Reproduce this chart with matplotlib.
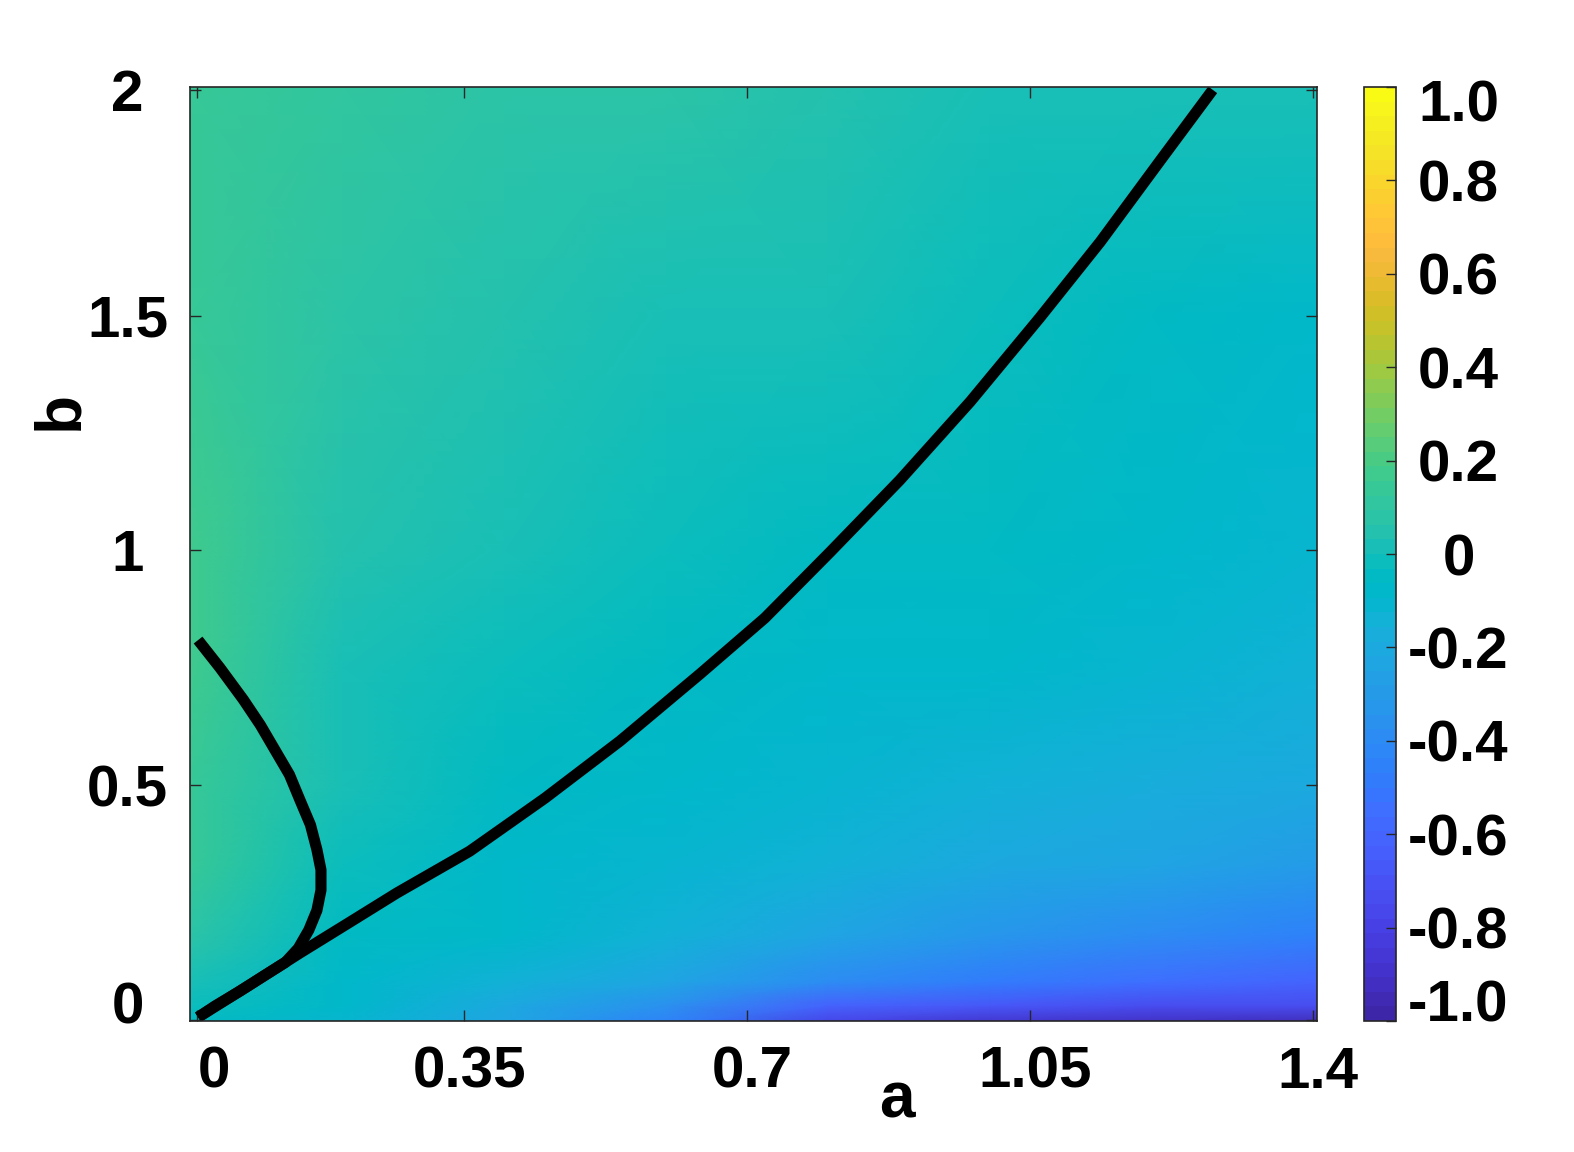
import matplotlib
matplotlib.use("Agg")
import matplotlib.pyplot as plt
import matplotlib.transforms as mtransforms
import numpy as np
from matplotlib.colors import ListedColormap

plt.rcParams['font.family'] = ['Liberation Sans', 'DejaVu Sans']
plt.rcParams['font.weight'] = 'bold'

# field values on a coarse grid (rows: b, cols: a)
a_nodes = [0.01, 0.2, 0.4, 0.6, 0.8, 1.0, 1.2, 1.41]
b_nodes = [-0.01, 0.03, 0.08, 0.18, 0.33, 0.5, 0.75, 1.0, 1.5, 1.99]
field = [
    [-0.05, -0.10, -0.25, -0.45, -0.80, -0.88, -0.93, -0.94],
    [-0.02, -0.08, -0.20, -0.35, -0.60, -0.68, -0.72, -0.75],
    [0.02, -0.07, -0.14, -0.25, -0.40, -0.48, -0.55, -0.60],
    [0.08, -0.06, -0.09, -0.15, -0.25, -0.32, -0.40, -0.45],
    [0.13, -0.03, -0.07, -0.10, -0.15, -0.20, -0.25, -0.30],
    [0.15, 0.00, -0.05, -0.07, -0.10, -0.13, -0.17, -0.20],
    [0.16, 0.03, -0.03, -0.06, -0.07, -0.09, -0.11, -0.14],
    [0.16, 0.06, 0.02, -0.03, -0.05, -0.06, -0.08, -0.10],
    [0.14, 0.09, 0.06, 0.03, 0.00, -0.03, -0.05, -0.07],
    [0.13, 0.11, 0.09, 0.07, 0.05, 0.03, 0.01, 0.00],
]

# boundary curves (a, b)
main_a = [0.021, 0.085, 0.147, 0.209, 0.267, 0.357, 0.450, 0.543, 0.642,
          0.722, 0.803, 0.889, 0.976, 1.062, 1.137, 1.211, 1.276]
main_b = [0.005, 0.074, 0.142, 0.208, 0.270, 0.359, 0.472, 0.594, 0.737,
          0.856, 0.997, 1.150, 1.317, 1.496, 1.658, 1.831, 1.982]
loop_a = [0.021, 0.048, 0.077, 0.098, 0.116, 0.134, 0.147, 0.160, 0.168, 0.173,
          0.173, 0.168, 0.158, 0.145, 0.129, 0.104, 0.073, 0.042, 0.021]
loop_b = [0.809, 0.750, 0.682, 0.628, 0.575, 0.522, 0.468, 0.415, 0.362, 0.319,
          0.276, 0.233, 0.191, 0.152, 0.122, 0.095, 0.061, 0.029, 0.005]

x_ticks = [0.02, 0.35, 0.7, 1.05, 1.4]
x_labels = ['0', '0.35', '0.7', '1.05', '1.4']
y_ticks = [0, 0.5, 1, 1.5, 1.982]
y_labels = ['0', '0.5', '1', '1.5', '2']
cb_ticks = [-1.0, -0.8, -0.6, -0.4, -0.2, 0, 0.2, 0.4, 0.6, 0.8, 1.0]
cb_labels = ['-1.0', '-0.8', '-0.6', '-0.4', '-0.2', '0', '0.2', '0.4', '0.6', '0.8', '1.0']

parula = ListedColormap([
    [0.2422, 0.1504, 0.6603], [0.2504, 0.1650, 0.7076], [0.2578, 0.1818, 0.7511], [0.2647, 0.1978, 0.7952],
    [0.2706, 0.2147, 0.8364], [0.2751, 0.2342, 0.8710], [0.2783, 0.2559, 0.8991], [0.2803, 0.2782, 0.9221],
    [0.2813, 0.3006, 0.9414], [0.2810, 0.3228, 0.9579], [0.2795, 0.3447, 0.9717], [0.2760, 0.3667, 0.9829],
    [0.2699, 0.3892, 0.9906], [0.2602, 0.4123, 0.9952], [0.2440, 0.4358, 0.9988], [0.2206, 0.4603, 0.9973],
    [0.1963, 0.4847, 0.9892], [0.1834, 0.5074, 0.9798], [0.1786, 0.5289, 0.9682], [0.1764, 0.5499, 0.9520],
    [0.1687, 0.5703, 0.9359], [0.1540, 0.5902, 0.9218], [0.1460, 0.6091, 0.9079], [0.1380, 0.6276, 0.8973],
    [0.1248, 0.6459, 0.8883], [0.1113, 0.6635, 0.8763], [0.0952, 0.6798, 0.8598], [0.0689, 0.6948, 0.8394],
    [0.0297, 0.7082, 0.8163], [0.0036, 0.7203, 0.7917], [0.0067, 0.7312, 0.7660], [0.0433, 0.7411, 0.7394],
    [0.0964, 0.7500, 0.7120], [0.1408, 0.7584, 0.6842], [0.1717, 0.7670, 0.6554], [0.1938, 0.7758, 0.6251],
    [0.2161, 0.7843, 0.5923], [0.2470, 0.7918, 0.5567], [0.2906, 0.7973, 0.5188], [0.3406, 0.8008, 0.4789],
    [0.3909, 0.8029, 0.4354], [0.4456, 0.8024, 0.3909], [0.5044, 0.7993, 0.3480], [0.5616, 0.7942, 0.3045],
    [0.6174, 0.7876, 0.2612], [0.6720, 0.7793, 0.2227], [0.7242, 0.7698, 0.1910], [0.7738, 0.7598, 0.1646],
    [0.8203, 0.7498, 0.1535], [0.8634, 0.7406, 0.1596], [0.9035, 0.7330, 0.1774], [0.9393, 0.7288, 0.2100],
    [0.9728, 0.7298, 0.2394], [0.9956, 0.7434, 0.2371], [0.9970, 0.7659, 0.2199], [0.9952, 0.7893, 0.2028],
    [0.9892, 0.8136, 0.1885], [0.9786, 0.8386, 0.1766], [0.9676, 0.8639, 0.1643], [0.9610, 0.8890, 0.1537],
    [0.9597, 0.9135, 0.1423], [0.9628, 0.9373, 0.1265], [0.9691, 0.9606, 0.1064], [0.9769, 0.9839, 0.0805],
], name='parula')

W, H = 1574, 1152
fig = plt.figure(figsize=(W / 100, H / 100), dpi=100)
ax = fig.add_axes([190 / W, 1 - 1021 / H, 1127 / W, 934 / H])
cax = fig.add_axes([1364 / W, 1 - 1021 / H, 32 / W, 934 / H])


def shift(label, dx_px, dy_px):
    # nudge a tick label by a few pixels, MATLAB keeps the end labels inside
    off = mtransforms.ScaledTranslation(dx_px / 100, dy_px / 100, fig.dpi_scale_trans)
    label.set_transform(label.get_transform() + off)


A, B = np.meshgrid(a_nodes, b_nodes)
mesh = ax.pcolormesh(A, B, np.array(field), shading='gouraud', cmap=parula, vmin=-1, vmax=1)

ax.plot(main_a, main_b, color='black', lw=8, solid_capstyle='butt', solid_joinstyle='round')
ax.plot(loop_a, loop_b, color='black', lw=8, solid_capstyle='butt', solid_joinstyle='round')

ax.set_xlim(0.011, 1.405)
ax.set_ylim(-0.003, 1.988)

ax.set_xticks(x_ticks)
ax.set_xticklabels(x_labels)
ax.set_yticks(y_ticks)
ax.set_yticklabels(y_labels)
ax.tick_params(direction='in', length=8, width=1, color='#262626', top=True, right=True, labelsize=42)
ax.tick_params(axis='x', pad=18)
ax.tick_params(axis='y', pad=45)
for lab in ax.get_yticklabels():
    lab.set_horizontalalignment('center')
xl = ax.get_xticklabels()
xl[0].set_horizontalalignment('left')
for lab in xl[1:]:
    shift(lab, 5, 0)
shift(ax.get_yticklabels()[0], 0, 17)
for sp in ax.spines.values():
    sp.set_linewidth(1.2)
    sp.set_color('#262626')

ax.set_xlabel('a', fontsize=46, fontweight='bold')
ax.xaxis.set_label_coords(0.627, -0.085)
ax.xaxis.label.set_verticalalignment('center')
ax.set_ylabel('b', fontsize=46, fontweight='bold')
ax.yaxis.set_label_coords(-0.115, 0.654)
ax.yaxis.label.set_verticalalignment('center')

cb = fig.colorbar(mesh, cax=cax)
cb.set_ticks(cb_ticks)
cb.set_ticklabels(cb_labels)
cax.tick_params(direction='in', length=7, width=1, color='#262626', labelsize=42, pad=45)
labs = cax.get_yticklabels()
for lab in labs:
    lab.set_horizontalalignment('center')
shift(labs[0], 0, 20)
shift(labs[-1], 0, -14)
cb.outline.set_linewidth(1.2)
cb.outline.set_edgecolor('#262626')

fig.savefig('out.png', dpi=100)
